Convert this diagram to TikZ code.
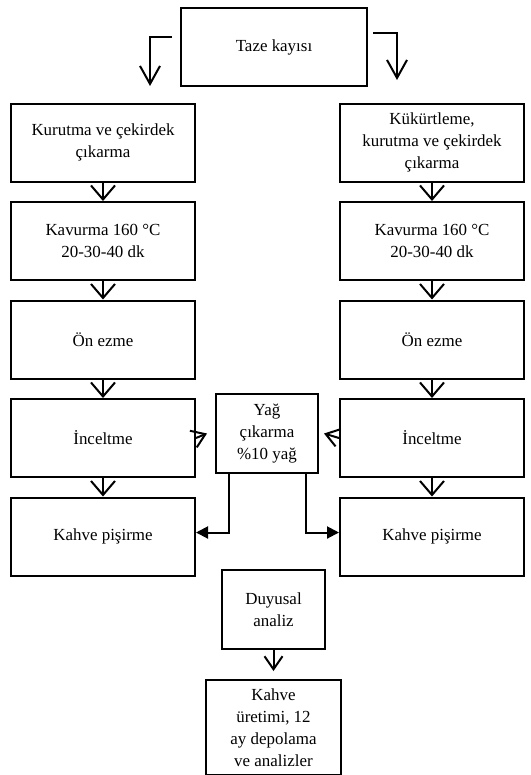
\documentclass[tikz,border=0pt]{standalone}
\usepackage{fontspec}
\setmainfont{Liberation Serif}
\usetikzlibrary{arrows.meta, positioning, calc}

\begin{document}
\begin{tikzpicture}[x=1bp, y=1bp, node distance=18.5bp,
  block/.style={draw, line width=2bp, minimum width=184bp, minimum height=78bp,
                align=center, inner sep=2bp, font=\fontsize{17}{22}\selectfont},
  arrow/.style={-{Straight Barb[length=14bp, width=24bp]}, line width=2bp},
  sidearrow/.style={-{Straight Barb[length=13bp, width=18bp]}, line width=2bp},
  toparrow/.style={-{Straight Barb[length=18bp, width=20bp]}, line width=2bp},
  fillarrow/.style={-{Triangle[length=12bp, width=12bp]}, line width=2bp}]

  \useasboundingbox (0,0) rectangle (531,-775);

  \node[block, minimum width=186bp] (taze) at (274,-47) {Taze kayısı};

  % left column
  \node[block] (l1) at (103,-142.5) {Kurutma ve çekirdek\\çıkarma};
  \node[block, below=of l1] (l2) {Kavurma 160 °C\\20-30-40 dk};
  \node[block, below=of l2] (l3) {Ön ezme};
  \node[block, below=of l3] (l4) {İnceltme};
  \node[block, below=of l4] (l5) {Kahve pişirme};

  % right column
  \node[block] (r1) at (432,-142.5) {Kükürtleme,\\kurutma ve çekirdek\\çıkarma};
  \node[block, below=of r1] (r2) {Kavurma 160 °C\\20-30-40 dk};
  \node[block, below=of r2] (r3) {Ön ezme};
  \node[block, below=of r3] (r4) {İnceltme};
  \node[block, below=of r4] (r5) {Kahve pişirme};

  \node[block, minimum width=102bp, minimum height=79bp] (yag) at (267,-433.5)
    {Yağ\\çıkarma\\\%10 yağ};
  \node[block, minimum width=103bp, minimum height=79bp] (duy) at (273.5,-609.5)
    {Duyusal\\analiz};
  \node[block, minimum width=135bp, minimum height=95bp, below=29bp of duy] (kahve)
    {Kahve\\üretimi, 12\\ay depolama\\ve analizler};

  \coordinate (tl) at (150,-86);
  \coordinate (tr) at (397,-80);
  \draw[toparrow] ([xshift=-8bp, yshift=10bp]taze.west) -| (tl);
  \draw[toparrow] ([xshift=5bp, yshift=14bp]taze.east) -| (tr);

  \draw[arrow] (l1) -- (l2);
  \draw[arrow] (l2) -- (l3);
  \draw[arrow] (l3) -- (l4);
  \draw[arrow] (l4) -- (l5);

  \draw[arrow] (r1) -- (r2);
  \draw[arrow] (r2) -- (r3);
  \draw[arrow] (r3) -- (r4);
  \draw[arrow] (r4) -- (r5);

  \draw[sidearrow] (l4.east) -- ([xshift=-8bp]yag.west);
  \draw[sidearrow] (r4.west) -- ([xshift=5bp]yag.east);

  \draw[fillarrow] ([xshift=-38bp]yag.south) |- ([yshift=4bp]l5.east);
  \draw[fillarrow] ([xshift=39bp]yag.south) |- ([yshift=4bp]r5.west);

  \draw[sidearrow] (duy) -- ([yshift=8bp]kahve.north);
\end{tikzpicture}
\end{document}
